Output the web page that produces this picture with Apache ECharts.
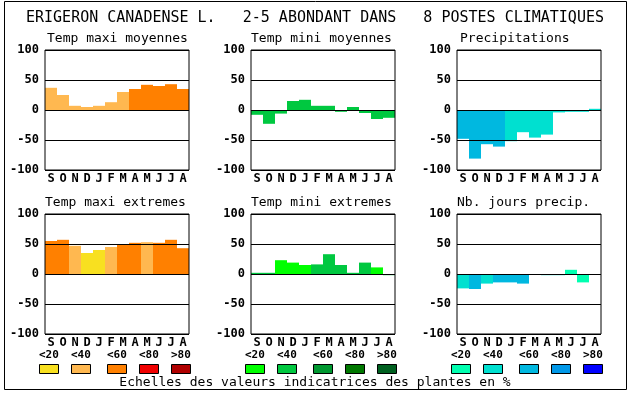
<!DOCTYPE html>
<html><head><meta charset="utf-8">
<script src="https://cdn.jsdelivr.net/npm/echarts@6/dist/echarts.min.js"></script>
<style>html,body{margin:0;padding:0;background:#fff}#c{width:630px;height:394px}</style>
</head><body><div id="c"></div>
<script>
const months = ['S','O','N','D','J','F','M','A','M','J','J','A'];
const yTicks = [-100, -50, 0, 50, 100];
const mainTitle = 'ERIGERON CANADENSE L.   2-5 ABONDANT DANS   8 POSTES CLIMATIQUES';
const panelTitles = ['Temp maxi moyennes','Temp mini moyennes','Precipitations','Temp maxi extremes','Temp mini extremes','Nb. jours precip.'];
const legendLabels = ['<20','<40','<60','<80','>80'];
const footer = 'Echelles des valeurs indicatrices des plantes en %';

const tempPalette  = ['#f8e020','#ffb850','#ff8000','#f00000','#b00000'];
const greenPalette = ['#00ff00','#00c840','#009830','#007800','#006020'];
const bluePalette  = ['#00ffb0','#00e0d0','#00b8e0','#0098e8','#0000ff'];

// values (%) per month, Sep..Aug
const tempMaxiMoy   = [37, 25, 7, 5, 7, 13, 30, 35, 42, 40, 43, 35];
const tempMiniMoy   = [-8, -23, -6, 15, 17, 7, 7, -3, 5, -5, -15, -13];
const precip        = [-48, -81, -57, -61, -52, -37, -46, -41, -4, -3, -3, 2];
const tempMaxiExt   = [55, 57, 47, 35, 40, 45, 50, 52, 53, 52, 57, 43];
const tempMiniExt   = [2, 2, 23, 19, 15, 16, 33, 15, 2, 19, 11, -2];
const nbJoursPrecip = [-24, -25, -16, -14, -14, -16, 0, -2, -2, 7, -14, -1];

// colour class (index into palette) per bar
const tempMaxiMoyCls   = [1,1,1,1,1,1,1,2,2,2,2,2];
const tempMiniMoyCls   = [1,1,1,1,1,1,1,1,1,1,1,1];
const precipCls        = [2,2,2,2,1,1,1,1,1,1,1,1];
const tempMaxiExtCls   = [2,2,1,0,0,1,2,2,1,2,2,2];
const tempMiniExtCls   = [1,1,0,0,0,1,1,1,1,1,0,1];
const nbJoursPrecipCls = [1,2,1,2,2,2,1,1,1,0,0,0];

const panels = [
  {vals: tempMaxiMoy, cls: tempMaxiMoyCls, pal: tempPalette},
  {vals: tempMiniMoy, cls: tempMiniMoyCls, pal: greenPalette},
  {vals: precip, cls: precipCls, pal: bluePalette},
  {vals: tempMaxiExt, cls: tempMaxiExtCls, pal: tempPalette},
  {vals: tempMiniExt, cls: tempMiniExtCls, pal: greenPalette},
  {vals: nbJoursPrecip, cls: nbJoursPrecipCls, pal: bluePalette}
];

const lefts = [45, 251, 457];
const tops = [50, 214];
const W = 144, H = 120;
const MONO = '"DejaVu Sans Mono", monospace';

const grid = [], xAxis = [], yAxis = [], series = [], graphic = [];
panels.forEach((p, i) => {
  const col = i % 3, row = Math.floor(i / 3);
  grid.push({left: lefts[col], top: tops[row], width: W, height: H, show: true,
    borderColor: '#000', borderWidth: 1, backgroundColor: 'transparent', z: 6});
  xAxis.push({type: 'category', gridIndex: i, data: months.map((m, k) => String(k)),
    boundaryGap: true, axisLine: {show: false}, axisTick: {show: false},
    axisLabel: {interval: 0, margin: 3, color: '#000', fontFamily: MONO, fontWeight: 'bold', fontSize: 12,
      formatter: (v, k) => months[k]}});
  yAxis.push({type: 'value', gridIndex: i, min: yTicks[0], max: yTicks[yTicks.length - 1], interval: 50, z: 6,
    axisLine: {show: false}, axisTick: {show: false},
    splitLine: {show: true, lineStyle: {color: '#000', width: 1}},
    axisLabel: {margin: 6, color: '#000', fontFamily: MONO, fontWeight: 'bold', fontSize: 12}});
  series.push({type: 'bar', xAxisIndex: i, yAxisIndex: i, barCategoryGap: '0%', silent: true, animation: false,
    data: p.vals.map((v, k) => ({value: v, itemStyle: {color: p.pal[p.cls[k]]}}))});
  graphic.push({type: 'text', left: lefts[col] + (row === 0 && col === 0 ? 2 : (row === 0 && col === 2 ? 3 : 0)),
    top: row === 0 ? 32 : 196,
    style: {text: panelTitles[i], font: '13px ' + MONO, fill: '#000'}});
});

// legend swatches & labels under row 2
const swX = [0, 32, 68, 100, 132];
const pals = [tempPalette, greenPalette, bluePalette];
for (let c = 0; c < 3; c++) {
  for (let k = 0; k < 5; k++) {
    const x = lefts[c] - 6 + swX[k];
    graphic.push({type: 'text', left: x, top: 350,
      style: {text: legendLabels[k], font: 'bold 11px ' + MONO, fill: '#000'}});
    graphic.push({type: 'rect', shape: {x: x + 0.5, y: 364.5, width: 19, height: 9},
      style: {fill: pals[c][k], stroke: '#000', lineWidth: 1}});
  }
}
graphic.push({type: 'text', left: 'center', top: 376,
  style: {text: footer, font: '13px ' + MONO, fill: '#000'}});
graphic.push({type: 'text', left: 26, top: 11,
  style: {text: mainTitle, font: '15px ' + MONO, fill: '#000'}});
graphic.push({type: 'rect', z: -1, shape: {x: 4.5, y: 1.5, width: 622, height: 388},
  style: {fill: 'none', stroke: '#000', lineWidth: 1}});

const chart = echarts.init(document.getElementById('c'), null, {renderer: 'canvas'});
chart.setOption({animation: false, grid, xAxis, yAxis, series, graphic});
</script></body></html>
